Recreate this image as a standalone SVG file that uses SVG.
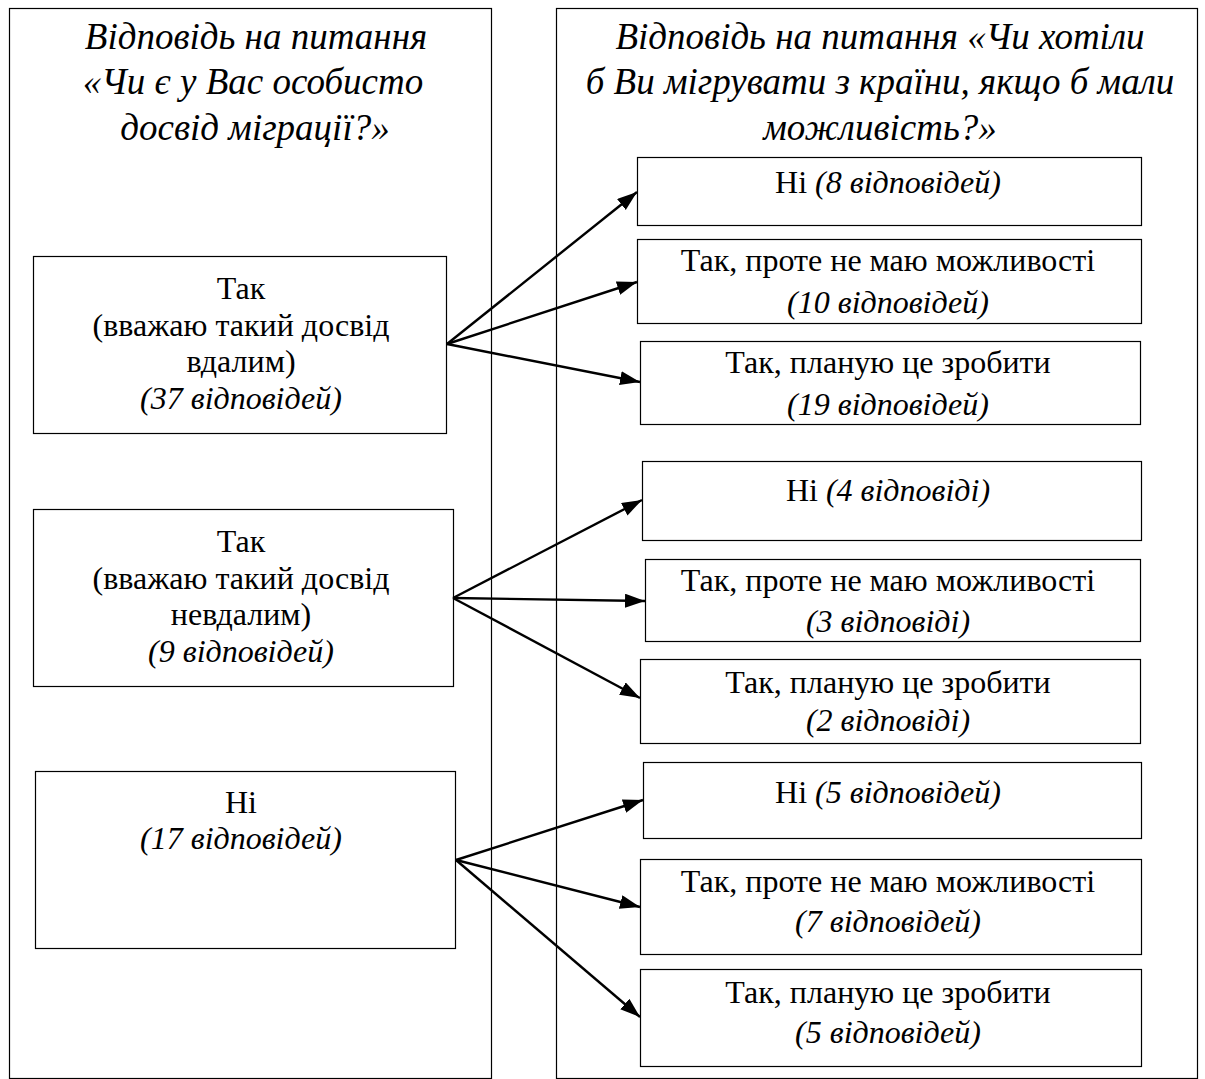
<svg xmlns="http://www.w3.org/2000/svg" width="1205" height="1079" viewBox="0 0 1205 1079">
<style>
  .col { fill: #fff; stroke: #000; stroke-width: 1.2; }
  .box { fill: #fff; stroke: #000; stroke-width: 1.2; }
  .hd { font-family: "Liberation Serif", "Times New Roman", serif; font-style: italic; font-size: 37px; fill: #000; text-anchor: middle; }
  .t { font-family: "Liberation Serif", "Times New Roman", serif; font-size: 32px; fill: #000; text-anchor: middle; }
  .i { font-style: italic; }
  .arr { stroke: #000; stroke-width: 2.4; fill: none; marker-end: url(#ah); }
</style>
<defs>
  <marker id="ah" markerUnits="userSpaceOnUse" markerWidth="24" markerHeight="16" refX="20" refY="7" orient="auto">
    <path d="M0,0 L20,7 L0,14 z" fill="#000"/>
  </marker>
</defs>
<rect width="1205" height="1079" fill="#fff"/>

<g id="col-left">
  <rect class="col" x="9.5" y="8.5" width="482" height="1070"/>
  <text class="hd" x="256" y="49">Відповідь на питання</text>
  <text class="hd" x="253" y="94">«Чи є у Вас особисто</text>
  <text class="hd" x="255" y="140">досвід міграції?»</text>
</g>
<g id="col-right">
  <rect class="col" x="556.5" y="8.5" width="641" height="1070"/>
  <text class="hd" x="880" y="49">Відповідь на питання «Чи хотіли</text>
  <text class="hd" x="880" y="94">б Ви мігрувати з країни, якщо б мали</text>
  <text class="hd" x="880" y="140">можливість?»</text>
</g>

<g id="b1">
  <rect class="box" x="33.5" y="256.5" width="413" height="177"/>
  <text class="t" x="241" y="299">Так</text>
  <text class="t" x="241" y="336">(вважаю такий досвід</text>
  <text class="t" x="241" y="372">вдалим)</text>
  <text class="t i" x="241" y="409">(37 відповідей)</text>
</g>
<g id="b2">
  <rect class="box" x="33.5" y="509.5" width="420" height="177"/>
  <text class="t" x="241" y="552">Так</text>
  <text class="t" x="241" y="589">(вважаю такий досвід</text>
  <text class="t" x="241" y="625">невдалим)</text>
  <text class="t i" x="241" y="662">(9 відповідей)</text>
</g>
<g id="b3">
  <rect class="box" x="35.5" y="771.5" width="420" height="177"/>
  <text class="t" x="241" y="813">Ні</text>
  <text class="t i" x="241" y="849">(17 відповідей)</text>
</g>

<g id="r1">
  <rect class="box" x="637.5" y="157.5" width="504" height="68"/>
  <text class="t" x="888" y="193">Ні <tspan class="i">(8 відповідей)</tspan></text>
</g>
<g id="r2">
  <rect class="box" x="637.5" y="239.5" width="504" height="84"/>
  <text class="t" x="888" y="271">Так, проте не маю можливості</text>
  <text class="t i" x="888" y="313">(10 відповідей)</text>
</g>
<g id="r3">
  <rect class="box" x="640.5" y="341.5" width="500" height="83"/>
  <text class="t" x="888" y="373">Так, планую це зробити</text>
  <text class="t i" x="888" y="415">(19 відповідей)</text>
</g>
<g id="r4">
  <rect class="box" x="642.5" y="461.5" width="499" height="79"/>
  <text class="t" x="888" y="501">Ні <tspan class="i">(4 відповіді)</tspan></text>
</g>
<g id="r5">
  <rect class="box" x="645.5" y="559.5" width="495" height="82"/>
  <text class="t" x="888" y="591">Так, проте не маю можливості</text>
  <text class="t i" x="888" y="632">(3 відповіді)</text>
</g>
<g id="r6">
  <rect class="box" x="640.5" y="659.5" width="500" height="84"/>
  <text class="t" x="888" y="693">Так, планую це зробити</text>
  <text class="t i" x="888" y="731">(2 відповіді)</text>
</g>
<g id="r7">
  <rect class="box" x="643.5" y="762.5" width="498" height="76"/>
  <text class="t" x="888" y="803">Ні <tspan class="i">(5 відповідей)</tspan></text>
</g>
<g id="r8">
  <rect class="box" x="640.5" y="859.5" width="501" height="95"/>
  <text class="t" x="888" y="892">Так, проте не маю можливості</text>
  <text class="t i" x="888" y="932">(7 відповідей)</text>
</g>
<g id="r9">
  <rect class="box" x="640.5" y="969.5" width="501" height="97"/>
  <text class="t" x="888" y="1003">Так, планую це зробити</text>
  <text class="t i" x="888" y="1043">(5 відповідей)</text>
</g>

<g id="connectors">
  <line class="arr" x1="447" y1="344" x2="637" y2="192"/>
  <line class="arr" x1="447" y1="344" x2="637" y2="282"/>
  <line class="arr" x1="447" y1="344" x2="640" y2="382"/>
  <line class="arr" x1="453" y1="598" x2="642" y2="500"/>
  <line class="arr" x1="453" y1="598" x2="645" y2="601"/>
  <line class="arr" x1="453" y1="598" x2="640" y2="698"/>
  <line class="arr" x1="456" y1="860" x2="643" y2="800"/>
  <line class="arr" x1="456" y1="860" x2="640" y2="907"/>
  <line class="arr" x1="456" y1="860" x2="640" y2="1017"/>
</g>
</svg>
